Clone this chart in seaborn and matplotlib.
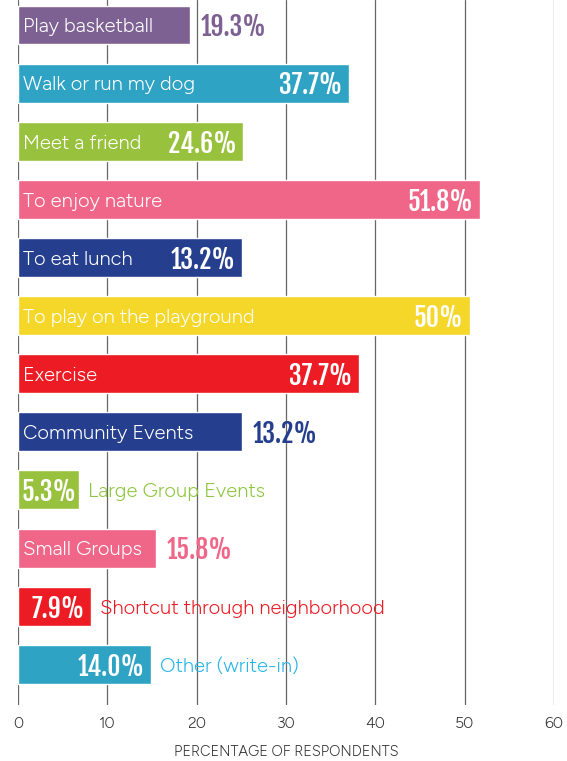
import matplotlib
matplotlib.use("Agg")
import matplotlib.pyplot as plt
import seaborn as sns
import pandas as pd

# survey answers, top to bottom
labels = ["Play basketball", "Walk or run my dog", "Meet a friend", "To enjoy nature",
          "To eat lunch", "To play on the playground", "Exercise", "Community Events",
          "Large Group Events", "Small Groups", "Shortcut through neighborhood", "Other (write-in)"]
pct_text = ["19.3%", "37.7%", "24.6%", "51.8%", "13.2%", "50%", "37.7%", "13.2%",
            "5.3%", "15.8%", "7.9%", "14.0%"]
# bar lengths as drawn in the original graphic (not always equal to the printed %)
bar_len = [19.3, 37.0, 25.2, 51.7, 25.1, 50.6, 38.2, 25.1, 6.8, 15.5, 8.2, 14.9]

colors = ["#7E6193", "#2EA3C4", "#98C13E", "#F06688", "#253F8E", "#F5D72A",
          "#ED1C24", "#253F8E", "#98C13E", "#F06688", "#ED1C24", "#2EA3C4"]
# where the texts go: both inside, pct outside, or label outside
mode = ["pct_out", "in", "in", "in", "in", "in", "in", "pct_out",
        "lab_out", "pct_out", "lab_out", "lab_out"]
out_color = {8: "#8DC63F", 10: "#ED1C24", 11: "#29B5E8"}

sns.set_style("white")
plt.rcParams['font.family'] = ['Figtree', 'Lato', 'DejaVu Sans']

df = pd.DataFrame({"label": labels, "len": bar_len})

fig = plt.figure(figsize=(5.67, 7.61), dpi=100)
ax = fig.add_axes([18 / 567, 1 - 705 / 761, (554 - 18) / 567, 705 / 761])

sns.barplot(data=df, x="len", y="label", hue="label", palette=colors, legend=False,
            width=0.67, saturation=1, ax=ax, zorder=3)

ax.set_xlim(0, 60)
ax.set_ylim(11.70, -0.43)
ax.set_xticks(range(0, 61, 10))
for v in range(0, 61, 10):
    ax.axvline(v, color="#666666", lw=0.9, zorder=1)
sns.despine(ax=ax, left=True, bottom=True)
ax.set_yticks([])
ax.set_ylabel("")
ax.tick_params(axis="x", length=0, pad=9, labelsize=11.5, labelcolor="#333333")
ax.set_xlabel("PERCENTAGE OF RESPONDENTS", fontsize=10.5, color="#333333", labelpad=10)

pct_font = dict(family=['Fjalla One', 'Anton', 'DejaVu Sans'], fontsize=18.5)
lab_size = 14.5
pad_out = 1.2
dy = 0.04
for i, (lab, p, L, m) in enumerate(zip(labels, pct_text, bar_len, mode)):
    pad_in = 0.25 if L < 7 else 0.75
    if m in ("in", "pct_out"):
        ax.text(0.6, i + dy, lab, color="white", fontsize=lab_size, va="center", ha="left", zorder=5)
    if m in ("in", "lab_out"):
        ax.text(L - pad_in, i + dy, p, color="white", va="center", ha="right", zorder=5, **pct_font)
    if m == "pct_out":
        ax.text(L + pad_out, i + dy, p, color=colors[i], va="center", ha="left", zorder=5, **pct_font)
    if m == "lab_out":
        ax.text(L + pad_out - 0.2, i + dy, lab, color=out_color[i], fontsize=lab_size, va="center",
                ha="left", zorder=5)

fig.savefig("out.png", dpi=100)
